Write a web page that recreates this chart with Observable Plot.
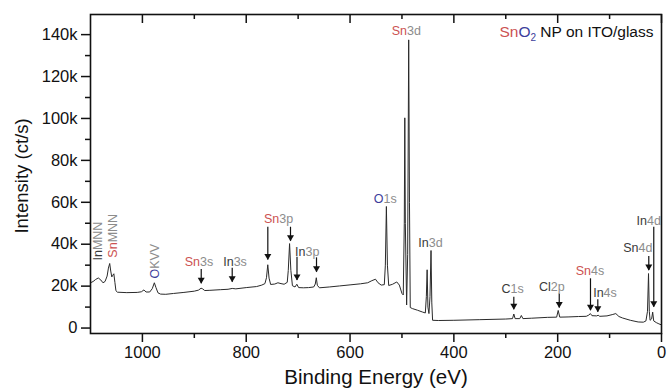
<!DOCTYPE html>
<html><head><meta charset="utf-8">
<script src="https://cdn.jsdelivr.net/npm/d3@7"></script>
<script src="https://cdn.jsdelivr.net/npm/@observablehq/plot@0.6"></script>
<style>
html,body{margin:0;padding:0;background:#fff;}
#chart svg{display:block;}
</style></head><body><div id="chart"></div>
<script>
// Binding energy (eV) and intensity (thousands of ct/s)
const energy = [
  1100,1095,1090,1085,1080,1076,1072,1068,1065.5,1063,1061,1059,1057,1055,1053,1051,1048,
  1030,1010,1002,997,993,986,981,977,974,970,965,955,940,920,900,892,887,884,880,870,850,835,827,820,
  800,780,770,764,761,758.5,756,753,745,739,733,727,721,719,716.5,714,711,706,702.5,699,690,680,670,667,665,663,659,
  640,620,600,580,566,558,551,546,540,534,532,530,528,525.5,518,510,505,500,497.5,495.5,494.5,493.5,491,489,487,485.5,484,
  480,470,460,455,453,451.5,450,448,446,444,442.5,441,430,400,350,300,287,284.5,282,273,270,267,250,220,202,199,196,
  180,160,145,140,137,134,125,122,119,105,95,88,82,75,60,45,35,30,27,25,23.5,22,19,17,15,10,5,0
];
const intensity = [
  21.6,22.2,23.2,23.9,22.9,21.6,22.2,24.8,28.6,30.8,27.2,24.4,25.2,25.9,21.8,17.8,17.1,
  16.9,17.0,17.3,18.2,17.2,17.2,18.8,21.6,19.4,16.8,16.2,16.1,16.5,17.0,17.6,18.1,19.0,18.7,17.9,18.0,18.3,18.5,18.9,18.7,
  19.3,19.8,20.5,21.2,24.0,30.2,23.8,20.8,21.0,21.6,21.2,20.9,21.8,27.5,40.3,27.5,20.2,19.6,20.9,19.3,19.2,19.3,19.6,21.0,24.0,20.4,19.2,
  19.6,20.1,20.6,21.1,21.6,22.6,23.3,21.6,20.5,20.7,30,58,30,20.3,20.9,22.0,20.5,16.5,15.8,50,100.3,50,11.0,35,137.5,60,9.8,
  9.3,8.5,7.6,7.2,15,27.8,10,6.9,15,37,12,3.7,3.6,3.7,4.0,4.3,4.5,6.7,4.5,4.5,6.0,4.5,4.7,5.1,5.2,8.4,5.2,
  5.3,5.5,5.6,6.2,6.9,5.9,5.8,6.1,5.6,5.8,6.4,6.9,5.5,4.8,3.7,2.9,2.8,3.4,8,26,8,3.7,4.4,7.6,3.4,2.6,2.0,1.5
];

// axis ticks
const yTicks = [0,20,40,60,80,100,120,140];
const yMinor = [10,30,50,70,90,110,130];
const xTicks = [0,200,400,600,800,1000];
const xMinor = [100,300,500,700,900];

// peak labels (element + orbital), anchored at label baseline
const peakEl     = ["Sn","In","Sn","In","O","Sn","In","C","Cl","Sn","In","Sn","In"];
const peakOrb    = ["3s","3s","3p","3p","1s","3d","3d","1s","2p","4s","4s","4d","4d"];
const peakLabelE = [891,821.6,737.8,682.6,532.3,491.6,445,287,211.4,137.8,108.9,45.7,24.5];
const peakLabelI = [29.8,29.8,50.3,34.6,59.9,139.6,38.5,16.5,17.9,25.5,15.0,36.3,49.4];

// arrows pointing at peaks
const arrowE   = [886.7,827,758.4,714.7,702.2,664.6,284.5,197,136.8,122.7,24.5,14.9];
const arrowTop = [27.9,28.5,48.1,48.1,33.8,33.5,14.7,16.3,23.5,13.5,34.1,48.1];
const arrowTip = [21.1,21.9,32.5,41.4,22.7,26.6,8.7,9.6,8.3,7.5,27.4,9.9];

// rotated Auger labels
const augerEl  = ["In","Sn","O"];
const augerOrb = ["MNN","MNN","KVV"];
const augerE   = [1085.6,1057.6,976.7];
const augerI   = [32.2,33.6,23.6];

const titleParts = ["Sn","O","2"," NP on ITO/glass"];

// styling
const RED = "#cc5252", BLUE = "#3d3d9c", DARK = "#3a3a3a", ORB = "#8c8c8c";
const plainLabels = new Set(["Sn4d"]); // element symbol drawn dark in the original
const colorOf = (el, orb) => plainLabels.has(el + orb) ? DARK : el === "Sn" ? RED : el === "O" ? BLUE : DARK;

const spectrum = energy.map((e,i) => ({e, v: intensity[i]}));
const peaks = peakEl.map((el,i) => ({el, orb: peakOrb[i], e: peakLabelE[i], v: peakLabelI[i]}));
const arrows = arrowE.map((e,i) => ({e, top: arrowTop[i], tip: arrowTip[i]}));
const augers = augerEl.map((el,i) => ({el, orb: augerOrb[i], e: augerE[i], v: augerI[i]}));

const H = 388, MT = 14, MB = 55;
const innerH = H - MT - MB;
const titleText = titleParts.join("");

const chart = Plot.plot({
  width: 667, height: H,
  marginLeft: 90, marginRight: 6, marginTop: MT, marginBottom: MB,
  style: {fontFamily: "'Liberation Sans', Arial, sans-serif", background: "#fff", color: "#111"},
  x: {domain: [1100, 0]},
  y: {domain: [-2.6, 149.6]},
  marks: [
    Plot.line(spectrum, {x: "e", y: "v", stroke: "#2a2a2a", strokeWidth: 1}),
    Plot.ruleX(arrows, {x: "e", y1: "top", y2: "tip", stroke: "#111", strokeWidth: 1.2}),
    Plot.dot(arrows, {x: "e", y: "tip", symbol: "triangle", rotate: 180, r: 2.6, fill: "#111", stroke: "none", dy: -4}),
    Plot.text(peaks, {x: "e", y: "v", text: d => d.el + d.orb, fontSize: 12.5, lineAnchor: "bottom", textAnchor: "middle", fill: DARK}),
    Plot.text(augers, {x: "e", y: "v", text: d => d.el + d.orb, fontSize: 12.5, rotate: -90, textAnchor: "start", lineAnchor: "middle", fill: DARK}),
    Plot.text([titleText], {text: d => d, frameAnchor: "top-right", dx: -8, dy: 11, textAnchor: "end", lineAnchor: "top", fontSize: 15.5, fill: "#111"}),
    Plot.text(["Intensity (ct/s)"], {text: d => d, frameAnchor: "left", dx: -68, dy: 2, rotate: -90, textAnchor: "middle", lineAnchor: "middle", fontSize: 18.5, fill: "#111"}),
    Plot.text(["Binding Energy (eV)"], {text: d => d, frameAnchor: "bottom", dy: 50, textAnchor: "middle", lineAnchor: "bottom", fontSize: 20.5, fill: "#111"}),
    Plot.axisY(yTicks, {anchor: "left", tickSize: 9, tickPadding: 4, tickFormat: d => d === 0 ? "0" : d + "k", fontSize: 16.5, label: null, strokeWidth: 1.5}),
    Plot.axisY(yMinor, {anchor: "left", tickSize: 5, tickFormat: () => "", label: null, strokeWidth: 1.5}),
    Plot.axisX(xTicks, {anchor: "bottom", tickSize: 9, tickPadding: 4, tickFormat: d => String(d), fontSize: 16.5, label: null, strokeWidth: 1.5}),
    Plot.axisX(xMinor, {anchor: "bottom", tickSize: 5, tickFormat: () => "", label: null, strokeWidth: 1.5}),
    Plot.ruleX(xTicks, {x: d => d, insetBottom: innerH - 9, stroke: "#111", strokeWidth: 1.5}),
    Plot.ruleX(xMinor, {x: d => d, insetBottom: innerH - 5, stroke: "#111", strokeWidth: 1.5}),
    Plot.frame({stroke: "#111", strokeWidth: 1.6})
  ]
});

document.getElementById("chart").append(chart);

const NS = "http://www.w3.org/2000/svg";
const byLabel = new Map();
[...peaks, ...augers].forEach(d => byLabel.set(d.el + d.orb, d));
chart.querySelectorAll("text").forEach(t => {
  const s = t.textContent;
  if (byLabel.has(s)) {
    const d = byLabel.get(s);
    t.textContent = "";
    const a = document.createElementNS(NS, "tspan");
    a.textContent = d.el; a.setAttribute("fill", colorOf(d.el, d.orb));
    const b = document.createElementNS(NS, "tspan");
    b.textContent = d.orb; b.setAttribute("fill", ORB);
    t.append(a, b);
  } else if (s === titleText) {
    t.textContent = "";
    const s1 = document.createElementNS(NS, "tspan"); s1.textContent = titleParts[0]; s1.setAttribute("fill", RED);
    const s2 = document.createElementNS(NS, "tspan"); s2.textContent = titleParts[1]; s2.setAttribute("fill", BLUE);
    const s3 = document.createElementNS(NS, "tspan"); s3.textContent = titleParts[2]; s3.setAttribute("fill", BLUE);
    s3.setAttribute("font-size", "10"); s3.setAttribute("dy", "4");
    const s4 = document.createElementNS(NS, "tspan"); s4.textContent = titleParts[3]; s4.setAttribute("fill", "#111");
    s4.setAttribute("dy", "-4");
    t.append(s1, s2, s3, s4);
  }
});
</script></body></html>
